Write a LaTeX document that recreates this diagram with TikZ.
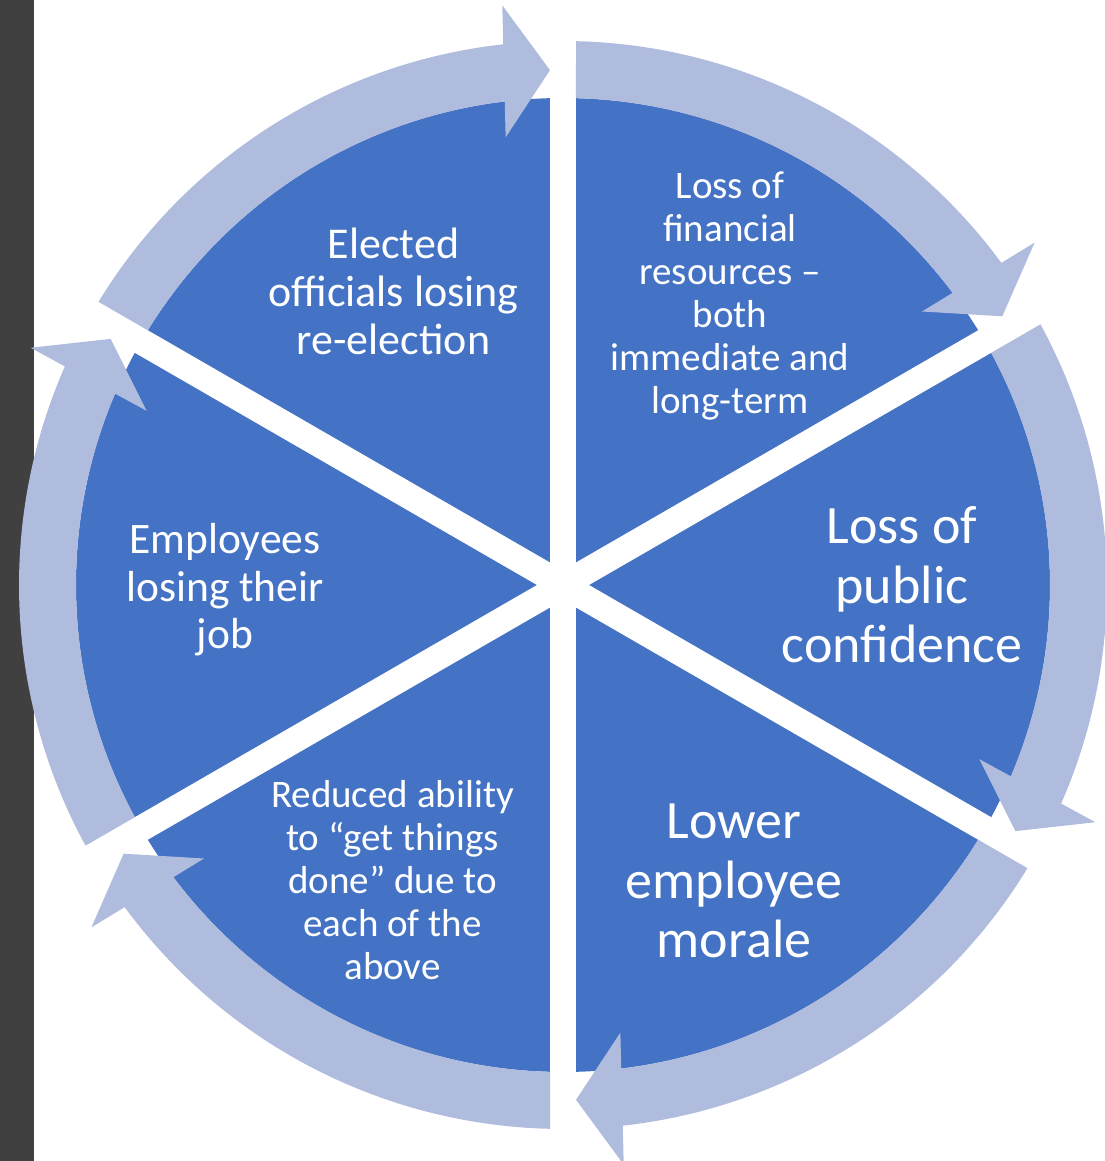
\documentclass[tikz,border=0pt]{standalone}
\usepackage{fontspec}
\setmainfont{Carlito}

\definecolor{segblue}{HTML}{4472C4}
\definecolor{ringblue}{RGB}{176,188,222}
\definecolor{sidebar}{RGB}{64,64,64}

\begin{document}
\begin{tikzpicture}[
    segment/.style = {fill=segblue, draw=none},
    gap/.style     = {draw=white, line width=26pt},
    ring/.style    = {fill=ringblue, draw=none},
    caption/.style = {text=white, align=center, inner sep=0pt},
    small/.style   = {font=\fontsize{39}{43}\selectfont},
    medium/.style  = {font=\fontsize{43.5}{47.5}\selectfont},
    large/.style   = {font=\fontsize{54}{59.5}\selectfont},
    % one arrow of the ring: tail on the 90 deg gap, head on the 30 deg gap
    cyclearrow/.pic = {
      \fill[ring] (88.63:544pt) arc[start angle=88.63, end angle=36.31, radius=544pt]
        -- (35.98:582.8pt) -- (31.45:515pt) -- (37.30:451.35pt)
        -- (36.87:487pt) arc[start angle=36.87, end angle=88.47, radius=487pt]
        -- cycle;
    }
]
\useasboundingbox (-563pt,-576pt) rectangle (541pt,585pt);

% --- Dark strip on the left edge -------------------------------------------
\fill[sidebar] (-563pt,-576pt) rectangle (-529pt,585pt);

% --- Pie, cut into six segments -----------------------------------------------
\fill[segment] (0,0) circle[radius=487pt];
\draw[gap] (90:500pt)  -- (270:500pt);
\draw[gap] (30:500pt)  -- (210:500pt);
\draw[gap] (150:500pt) -- (330:500pt);

% --- Ring of arrows (clockwise) ---------------------------------------------
\pic at (0,0)              {cyclearrow};
\pic[rotate=60]  at (0,0)  {cyclearrow};
\pic[rotate=120] at (0,0)  {cyclearrow};
\pic[rotate=180] at (0,0)  {cyclearrow};
\pic[rotate=240] at (0,0)  {cyclearrow};
\pic[rotate=300] at (0,0)  {cyclearrow};

% --- Segment texts -------------------------------------------------------------
\node[caption, font=\fontsize{44}{48}\selectfont] (elected) at (120:339pt)
  {Elected\\officials losing\\re-election};
\node[caption, small]  (finance)    at (60:334pt)
  {Loss of\\financial\\resources --\\both\\immediate and\\long-term};
\node[caption, large]  (confidence) at (0:339pt)
  {Loss of\\public\\confidence};
\node[caption, large]  (morale)     at (-60:342pt)
  {Lower\\employee\\morale};
\node[caption, small]  (ability)    at (-120:341pt)
  {Reduced ability\\to “get things\\done” due to\\each of the\\above};
\node[caption, medium] (jobs)       at (-338pt,-5pt)
  {Employees\\losing their\\job};

\end{tikzpicture}
\end{document}
